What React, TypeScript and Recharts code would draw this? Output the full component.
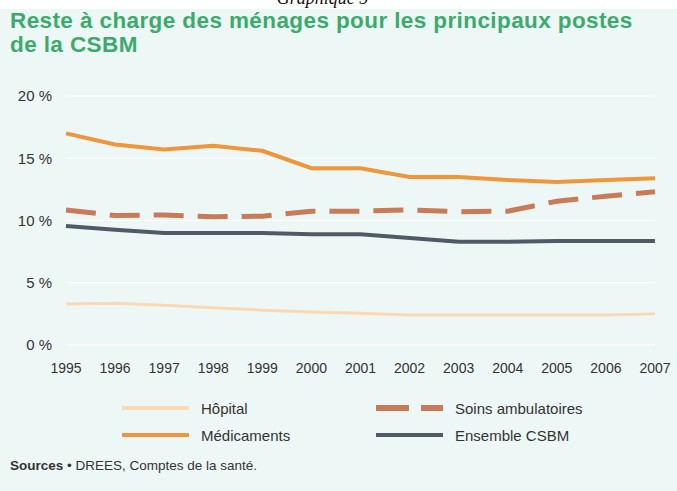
import React from "react";
import { LineChart, Line, XAxis, YAxis, CartesianGrid } from "recharts";

const years = ["1995", "1996", "1997", "1998", "1999", "2000", "2001", "2002", "2003", "2004", "2005", "2006", "2007"];
const hopital = [3.3, 3.35, 3.2, 3.0, 2.8, 2.65, 2.55, 2.4, 2.4, 2.4, 2.4, 2.4, 2.5];
const medicaments = [17.0, 16.1, 15.7, 16.0, 15.6, 14.2, 14.2, 13.5, 13.5, 13.25, 13.1, 13.25, 13.4];
const soinsAmbulatoires = [10.85, 10.4, 10.45, 10.3, 10.35, 10.75, 10.75, 10.85, 10.7, 10.75, 11.55, 11.95, 12.3];
const ensembleCSBM = [9.55, 9.25, 9.0, 9.0, 9.0, 8.9, 8.9, 8.6, 8.3, 8.3, 8.35, 8.35, 8.35];
const yTicks = [0, 5, 10, 15, 20];

const data = years.map((y, i) => ({
  year: y,
  hopital: hopital[i],
  medicaments: medicaments[i],
  soins: soinsAmbulatoires[i],
  csbm: ensembleCSBM[i],
}));

const C_HOP = "#fcd8b2";
const C_MED = "#f0953a";
const C_SOINS = "#c97a58";
const C_CSBM = "#505a66";
const BG = "#edf8f6";
const FONT = "'Liberation Sans', Arial, sans-serif";

const LegendItem = ({ x, y, color, dashed, width, label }: any) => (
  <div style={{ position: "absolute", left: x, top: y - 10, height: 20, display: "flex", alignItems: "center" }}>
    <svg width={70} height={10} style={{ display: "block" }}>
      <line x1={1} y1={5} x2={68} y2={5} stroke={color} strokeWidth={width} strokeDasharray={dashed ? "33 12" : undefined} />
    </svg>
    <span style={{ marginLeft: 10, fontSize: 15, color: "#333", fontFamily: FONT }}>{label}</span>
  </div>
);

export default function App() {
  return (
    <div style={{ position: "absolute", left: 0, top: 0, width: 677, height: 491, background: BG, overflow: "hidden", fontFamily: FONT }}>
      <div style={{ position: "absolute", left: 0, top: 0, width: 677, height: 9, background: "#ffffff" }} />
      <div style={{ position: "absolute", left: 0, top: -12, width: 645, textAlign: "center", fontFamily: "'Liberation Serif', 'Times New Roman', serif", fontStyle: "italic", fontSize: 18, color: "#111", lineHeight: "20px" }}>
        Graphique 5
      </div>
      <div style={{ position: "absolute", left: 10, top: 9, fontSize: 22.5, fontWeight: "bold", color: "#3aab6c", lineHeight: "24px", letterSpacing: 0.4, whiteSpace: "nowrap" }}>
        Reste à charge des ménages pour les principaux postes
        <br />
        de la CSBM
      </div>
      <div style={{ position: "absolute", left: 0, top: 0 }}>
        <LineChart width={677} height={400} data={data} margin={{ top: 96, right: 22, bottom: 25, left: 0 }}>
          <CartesianGrid vertical={false} stroke="#ffffff" strokeWidth={1.2} />
          <XAxis
            dataKey="year"
            axisLine={false}
            tickLine={false}
            tickSize={0}
            tickMargin={18}
            interval={0}
            tick={{ fill: "#333", fontSize: 14, fontFamily: FONT }}
          />
          <YAxis
            width={66}
            domain={[0, 20]}
            ticks={yTicks}
            axisLine={false}
            tickLine={false}
            tickSize={0}
            tickMargin={14}
            tickFormatter={(v: number) => `${v} %`}
            tick={{ fill: "#333", fontSize: 15, fontFamily: FONT }}
          />
          <Line dataKey="hopital" stroke={C_HOP} strokeWidth={3} dot={false} isAnimationActive={false} />
          <Line dataKey="soins" stroke={C_SOINS} strokeWidth={5} strokeDasharray="30 14" dot={false} isAnimationActive={false} />
          <Line dataKey="csbm" stroke={C_CSBM} strokeWidth={4} dot={false} isAnimationActive={false} />
          <Line dataKey="medicaments" stroke={C_MED} strokeWidth={4} dot={false} isAnimationActive={false} />
        </LineChart>
      </div>
      <LegendItem x={121} y={408} color={C_HOP} width={4} label="Hôpital" />
      <LegendItem x={121} y={435} color={C_MED} width={4} label="Médicaments" />
      <LegendItem x={375} y={408} color={C_SOINS} width={6} dashed label="Soins ambulatoires" />
      <LegendItem x={375} y={435} color={C_CSBM} width={4} label="Ensemble CSBM" />
      <div style={{ position: "absolute", left: 10, top: 458, fontSize: 13.5, color: "#333" }}>
        <b>Sources</b> • DREES, Comptes de la santé.
      </div>
    </div>
  );
}
